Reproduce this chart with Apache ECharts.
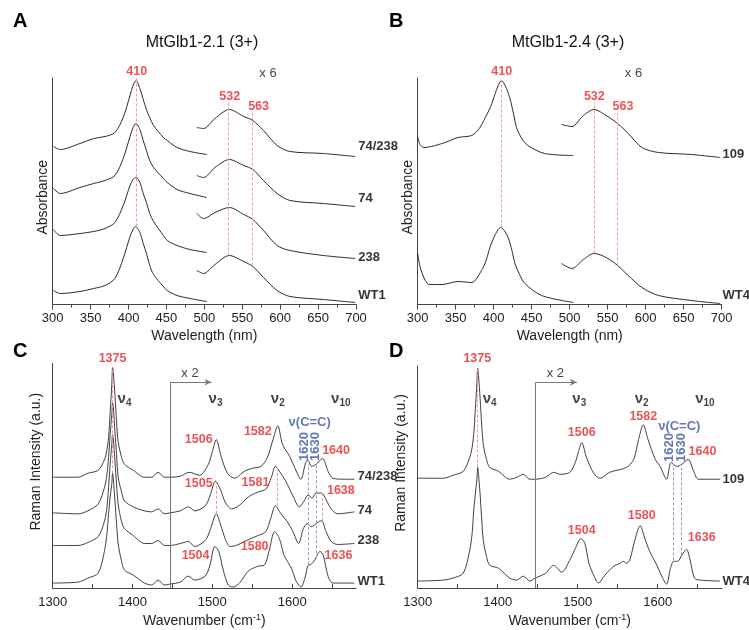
<!DOCTYPE html>
<html><head><meta charset="utf-8">
<script src="https://cdn.jsdelivr.net/npm/echarts@6/dist/echarts.min.js"></script>
<style>html,body{margin:0;padding:0;background:#fff}#c{width:749px;height:630px}</style>
</head><body><div id="c"></div><script>
// ---------------- DATA (arbitrary units) ----------------
// Panel A  MtGlb1-2.1 (3+): Soret region and Q-band region (x6)
const A_soret_74_238 = [[301,158],[310,155],[336,161],[354,166],[369,168],[382,172],[393,187],[402,209],[406,219],[410,224],[415,216],[419,206],[424,194],[428,187],[433,179],[446,167],[451,164],[464,157],[481,153],[503,150]];
const A_soret_74 = [[301,116],[310,111],[336,117],[354,121],[369,124],[382,129],[393,146],[402,168],[406,177],[410,181],[415,175],[419,165],[424,153],[428,144],[433,137],[446,126],[451,122],[464,115],[481,111],[503,107]];
const A_soret_238 = [[301,75],[310,69],[336,71],[354,73],[369,76],[382,82],[393,99],[402,119],[406,125],[410,127],[415,122],[419,112],[424,101],[428,91],[433,83],[446,69],[451,64],[464,59],[481,55],[503,52]];
const A_soret_WT1 = [[301,14],[310,11],[336,13],[354,16],[369,19],[382,26],[393,46],[402,68],[406,75],[409,78],[415,72],[419,62],[424,50],[428,39],[433,30],[446,18],[451,14],[464,9],[481,6],[503,3]];
const A_q_74_238 = [[490,177],[499,176],[514,186],[533,195],[552,188],[564,184],[578,174],[596,159],[613,153],[657,151],[699,148]];
const A_q_74 = [[490,129],[499,127],[514,137],[533,145],[552,139],[564,135],[578,124],[596,111],[613,104],[657,101],[699,98]];
const A_q_238 = [[490,91],[499,86],[514,92],[533,97],[552,90],[564,85],[578,74],[596,59],[613,54],[657,49],[699,46]];
const A_q_WT1 = [[490,34],[499,31],[514,40],[533,49],[552,43],[564,38],[578,27],[596,14],[613,8],[657,5],[699,2]];
// Panel B  MtGlb1-2.4 (3+)
const B_soret_109 = [[300,168],[303,160],[308,157],[318,158],[336,162],[353,167],[371,169],[381,176],[389,187],[396,198],[402,211],[406,219],[410,224],[415,219],[421,207],[426,191],[430,177],[437,166],[445,159],[467,151],[505,149]];
const B_soret_WT4 = [[300,51],[303,38],[306,31],[310,24],[315,20],[332,20],[353,23],[371,22],[384,34],[390,44],[395,57],[402,70],[406,75],[409,77],[414,74],[419,67],[424,54],[428,41],[434,30],[441,21],[463,9],[505,2]];
const B_q_109 = [[489,180],[503,178],[518,189],[532,195],[548,189],[563,181],[577,171],[595,157],[617,152],[660,150],[698,147]];
const B_q_WT4 = [[489,41],[503,36],[518,45],[532,51],[548,47],[563,39],[577,29],[595,17],[617,9],[660,4],[698,1]];
// Panel C  Raman, MtGlb1-2.1
const C_74_238 = [[1300,112],[1332,112],[1344,116],[1357,119],[1365,130],[1368,140],[1370,152],[1372,178],[1374,205],[1375,223],[1376,217],[1378,195],[1380,168],[1382,148],[1386,133],[1390,125],[1401,119],[1415,112],[1424,112],[1432,117],[1440,112],[1447,112],[1460,113],[1471,117],[1484,114],[1495,125],[1500,138],[1505,150],[1511,133],[1519,116],[1528,111],[1540,118],[1550,121],[1561,123],[1569,132],[1576,150],[1582,164],[1588,145],[1597,133],[1603,122],[1611,110],[1617,127],[1620,129],[1624,123],[1630,125],[1638,131],[1645,118],[1651,111],[1665,110],[1678,110]];
const C_74 = [[1300,76],[1332,75],[1344,78],[1357,85],[1365,102],[1368,115],[1370,132],[1372,155],[1374,175],[1375,187],[1376,182],[1378,158],[1380,135],[1382,112],[1386,98],[1390,88],[1401,82],[1415,78],[1424,77],[1432,80],[1440,75],[1447,76],[1460,78],[1470,82],[1478,78],[1491,83],[1497,93],[1504,108],[1510,100],[1516,87],[1524,80],[1533,83],[1545,92],[1557,97],[1567,100],[1574,112],[1579,123],[1584,118],[1592,108],[1601,93],[1609,82],[1615,88],[1620,94],[1625,91],[1630,96],[1637,96],[1642,90],[1649,80],[1657,75],[1678,77]];
const C_238 = [[1300,43],[1332,43],[1344,46],[1357,52],[1365,68],[1368,82],[1370,102],[1372,125],[1374,145],[1375,155],[1376,150],[1378,128],[1380,105],[1382,85],[1386,68],[1390,60],[1401,53],[1415,45],[1424,45],[1432,48],[1440,43],[1447,43],[1460,45],[1470,47],[1478,42],[1491,48],[1497,58],[1505,75],[1510,65],[1516,50],[1522,42],[1530,43],[1540,47],[1557,53],[1567,57],[1573,70],[1579,83],[1586,75],[1594,67],[1601,57],[1608,45],[1614,60],[1619,65],[1624,62],[1633,67],[1637,68],[1642,58],[1649,47],[1657,44],[1678,45]];
const C_WT1 = [[1300,5],[1332,6],[1344,10],[1357,15],[1365,38],[1368,55],[1370,75],[1372,92],[1374,105],[1375,116],[1376,110],[1378,88],[1380,65],[1382,45],[1386,28],[1390,18],[1401,13],[1415,5],[1424,3],[1432,8],[1440,3],[1447,4],[1460,6],[1470,12],[1478,8],[1491,12],[1497,23],[1503,42],[1508,37],[1514,17],[1520,3],[1526,1],[1534,5],[1545,17],[1557,22],[1565,23],[1571,37],[1578,57],[1584,50],[1590,33],[1599,20],[1605,7],[1611,1],[1616,10],[1620,23],[1624,24],[1628,28],[1635,37],[1639,33],[1645,12],[1651,5],[1678,5]];
// Panel D  Raman, MtGlb1-2.4
const D_109 = [[1300,111],[1332,111],[1344,114],[1357,118],[1365,132],[1368,142],[1370,155],[1372,180],[1374,208],[1375,222],[1376,215],[1378,192],[1380,165],[1382,145],[1386,130],[1390,122],[1401,118],[1415,110],[1424,112],[1432,115],[1440,110],[1447,110],[1460,112],[1470,117],[1478,115],[1490,117],[1497,127],[1501,138],[1505,147],[1511,132],[1520,116],[1528,111],[1540,117],[1561,122],[1570,130],[1576,150],[1582,165],[1588,150],[1597,130],[1603,123],[1611,110],[1617,127],[1624,123],[1630,125],[1638,130],[1645,118],[1651,110],[1678,110]];
const D_WT4 = [[1300,7],[1332,8],[1344,10],[1357,15],[1365,38],[1368,55],[1370,78],[1372,95],[1374,110],[1375,122],[1376,115],[1378,95],[1380,70],[1382,48],[1386,32],[1390,23],[1401,20],[1415,10],[1424,8],[1432,12],[1440,7],[1447,10],[1460,15],[1470,23],[1480,16],[1490,28],[1497,40],[1504,50],[1509,45],[1514,25],[1520,13],[1526,5],[1534,13],[1545,22],[1553,25],[1557,27],[1561,25],[1565,28],[1571,47],[1578,63],[1584,50],[1590,37],[1599,23],[1605,12],[1611,4],[1616,20],[1620,27],[1625,27],[1630,33],[1636,39],[1640,30],[1646,10],[1653,8],[1678,7]];

// Tick values
const wlMin = 300, wlMax = 700, wlStep = 50;
const wnTicks = [1300,1350,1400,1450,1500,1550,1600,1650];
const wnLabels = [1300,1400,1500,1600];

// Annotations: [x, yFrom, yTo] for guide lines, [x, y, text] for labels
const A_redLines = [[410,78,226],[532,49,204],[563,39,194]];
const B_redLines = [[410,77,226],[532,51,202],[563,39,191]];
const C_redLines = [[1375,116,223],[1505,75,108],[1581,83,123],[1638,68,96]];
const C_blueLines = [[1620,23,125],[1630,30,125]];
const D_redLines = [[1375,122,222]];
const D_blueLines = [[1620,28,122],[1630,33,122]];
const x2Splice = [1447, 208, 1499];

const A_red = [[410.9,233,'410'],[533.5,208,'532'],[571.5,198,'563']];
const B_red = [[410.5,233,'410'],[532.4,208,'532'],[570,198,'563']];
const AB_plain = [[584,231,'x 6']];
const A_names = [[703,158,'74/238'],[703,106,'74'],[703,47,'238'],[703,9,'WT1']];
const B_names = [[701,150,'109'],[701,9,'WT4']];
const C_red = [[1375,232,'1375'],[1483,150,'1506'],[1557,158,'1582'],[1655,139,'1640'],[1483,106,'1505'],[1554,107,'1581'],[1661,99,'1638'],[1479,33,'1504'],[1553,42,'1580'],[1658,33,'1636']];
const D_red = [[1374.5,232,'1375'],[1505,157,'1506'],[1582,173,'1582'],[1656,138,'1640'],[1505,58,'1504'],[1580,73,'1580'],[1655,51,'1636']];
const C_blue = [[1622,167,'ν(C=C)']];
const D_blue = [[1627,163,'ν(C=C)']];
const C_blueRot = [[1615,143,'1620'],[1629,143,'1630']];
const D_blueRot = [[1615,142,'1620'],[1630,142,'1630']];
const C_nu = [[1390,191,'4'],[1504,191,'3'],[1582,191,'2'],[1661,191,'10']];
const D_nu = [[1390,191,'4'],[1502,191,'3'],[1580,191,'2'],[1659,191,'10']];
const CD_plain = [[1472,217,'x 2']];
const C_names = [[1682,113,'74/238'],[1682,78,'74'],[1682,48,'238'],[1682,7,'WT1']];
const D_names = [[1681,110,'109'],[1681,7,'WT4']];

// ---------------- CHART ----------------
const FONT = '"Liberation Sans", Arial, sans-serif';
const RED = '#e8262b', BLUE = '#3b55a8', INK = '#111', AX = '#444';
const chart = echarts.init(document.getElementById('c'));

const grids = [
  {left:52.7, top:78, width:303.3, height:226.5},
  {left:417.7, top:78, width:304, height:226.5},
  {left:52.7, top:363.5, width:303.3, height:227},
  {left:417.7, top:366, width:304, height:224.5}
];
const plainNum = v => String(v);
function wlAxis(g){
  return {type:'value', gridIndex:g, min:wlMin, max:wlMax, interval:wlStep,
    axisLine:{onZero:false, lineStyle:{color:AX, width:1}},
    axisTick:{show:true, inside:false, length:5, lineStyle:{color:AX}},
    minorTick:{show:true, splitNumber:2, length:3, lineStyle:{color:AX}},
    splitLine:{show:false}, minorSplitLine:{show:false},
    axisLabel:{fontSize:13, color:'#222', margin:7, fontFamily:FONT, formatter:plainNum},
    name:'Wavelength (nm)', nameLocation:'middle', nameGap:25,
    nameTextStyle:{fontSize:14, color:'#222', fontFamily:FONT}};
}
function wnAxis(g){
  return {type:'value', gridIndex:g, min:1300, max:1680,
    axisLine:{onZero:false, lineStyle:{color:AX, width:1}},
    axisTick:{show:true, inside:true, length:4, customValues:wnTicks, lineStyle:{color:AX}},
    splitLine:{show:false},
    axisLabel:{fontSize:13, color:'#222', margin:8, fontFamily:FONT, customValues:wnLabels, formatter:plainNum},
    name:'Wavenumber (cm{sup|-1})', nameLocation:'middle', nameGap:25,
    nameTextStyle:{fontSize:14, color:'#222', fontFamily:FONT, lineHeight:16,
      rich:{sup:{fontSize:9, lineHeight:9, verticalAlign:'top', color:'#222', fontFamily:FONT}}}};
}
function yAx(g, max, name, gap, pad){
  return {type:'value', gridIndex:g, min:0, max:max,
    axisLine:{show:true, onZero:false, lineStyle:{color:AX, width:1}},
    axisTick:{show:false}, axisLabel:{show:false}, splitLine:{show:false},
    name:name, nameLocation:'middle', nameGap:gap,
    nameTextStyle:{fontSize:14, color:'#222', fontFamily:FONT, padding:pad}};
}

const series = [];
function spec(g, data, name, width){
  series.push({type:'line', name:name, xAxisIndex:g, yAxisIndex:g, data:data,
    showSymbol:false, symbol:'none', smooth:0.3, silent:true, z:3,
    lineStyle:{width:width||1, color:'#2b2b2b'}});
}
function guides(g, lines, color){
  series.push({type:'line', xAxisIndex:g, yAxisIndex:g, data:[], silent:true, z:2,
    markLine:{silent:true, symbol:['none','none'], animation:false, label:{show:false},
      lineStyle:{type:[3,2], color:color, width:1},
      data: lines.map(l => [{coord:[l[0], l[1]]}, {coord:[l[0], l[2]]}])}});
}
function spliceArrow(g, s){
  series.push({type:'line', xAxisIndex:g, yAxisIndex:g, data:[], silent:true, z:2,
    markLine:{silent:true, animation:false, label:{show:false},
      lineStyle:{type:'solid', color:'#777', width:1},
      data:[
        [{coord:[s[0],0], symbol:'none'}, {coord:[s[0],s[1]], symbol:'none'}],
        [{coord:[s[0],s[1]], symbol:'none'}, {coord:[s[2],s[1]], symbol:'arrow', symbolSize:[5,7]}]
      ]}});
}
function texts(g, items, style, fmt){
  series.push({type:'scatter', xAxisIndex:g, yAxisIndex:g, symbolSize:0, clip:false, silent:true, z:5,
    data: items.map(it => ({value:[it[0], it[1]], label:{formatter: fmt ? fmt(it[2]) : it[2]}})),
    label:Object.assign({show:true, position:[0,0], align:'center', verticalAlign:'middle', fontFamily:FONT}, style)});
}
const redStyle = {color:RED, fontSize:12.5, fontWeight:'bold'};
const blueStyle = {color:BLUE, fontSize:13, fontWeight:'bold'};
const blueRot = {color:BLUE, fontSize:13, fontWeight:'bold', rotate:90};
const plainStyle = {color:INK, fontSize:13};
const nameStyle = {color:'#000', fontSize:13, fontWeight:'bold', align:'left'};
const nuStyle = {rich:{
  n:{fontSize:15, lineHeight:18, fontWeight:'bold', color:INK, fontFamily:FONT},
  s:{fontSize:10, lineHeight:10, verticalAlign:'bottom', fontWeight:'bold', color:INK, fontFamily:FONT}}};
const nuFmt = t => '{n|ν}{s|' + t + '}';

// Panel A
[A_soret_74_238, A_soret_74, A_soret_238, A_soret_WT1, A_q_74_238, A_q_74, A_q_238, A_q_WT1].forEach(d => spec(0, d));
guides(0, A_redLines, '#f29a9a');
texts(0, A_red, redStyle); texts(0, AB_plain, plainStyle); texts(0, A_names, nameStyle);
// Panel B
[B_soret_109, B_soret_WT4, B_q_109, B_q_WT4].forEach(d => spec(1, d));
guides(1, B_redLines, '#f29a9a');
texts(1, B_red, redStyle); texts(1, AB_plain, plainStyle); texts(1, B_names, nameStyle);
// Panel C
[C_74_238, C_74, C_238, C_WT1].forEach(d => spec(2, d, null, 0.9));
guides(2, C_redLines, '#f29a9a'); guides(2, C_blueLines, '#8b9bd6'); spliceArrow(2, x2Splice);
texts(2, C_red, redStyle); texts(2, C_blue, blueStyle); texts(2, C_blueRot, blueRot);
texts(2, C_nu, nuStyle, nuFmt); texts(2, CD_plain, plainStyle); texts(2, C_names, nameStyle);
// Panel D
[D_109, D_WT4].forEach(d => spec(3, d, null, 0.9));
guides(3, D_redLines, '#f29a9a'); guides(3, D_blueLines, '#8b9bd6'); spliceArrow(3, x2Splice);
texts(3, D_red, redStyle); texts(3, D_blue, blueStyle); texts(3, D_blueRot, blueRot);
texts(3, D_nu, nuStyle, nuFmt); texts(3, CD_plain, plainStyle); texts(3, D_names, nameStyle);

const letter = {fontSize:20, fontWeight:'bold', color:'#000', fontFamily:FONT};
const sub = {fontSize:16, fontWeight:'normal', color:'#111', fontFamily:FONT};
chart.setOption({
  animation:false,
  backgroundColor:'#fff',
  textStyle:{fontFamily:FONT},
  title:[
    {text:'A', left:13, top:11, padding:0, textStyle:letter},
    {text:'B', left:389, top:11, padding:0, textStyle:letter},
    {text:'C', left:13, top:341, padding:0, textStyle:letter},
    {text:'D', left:389, top:341, padding:0, textStyle:letter},
    {text:'MtGlb1-2.1 (3+)', left:202, top:35, textAlign:'center', padding:0, textStyle:sub},
    {text:'MtGlb1-2.4 (3+)', left:568, top:35, textAlign:'center', padding:0, textStyle:sub}
  ],
  grid:grids,
  xAxis:[wlAxis(0), wlAxis(1), wnAxis(2), wnAxis(3)],
  yAxis:[yAx(0,226.5,'Absorbance',3,[0,12,0,0]), yAx(1,226.5,'Absorbance',3,[0,12,0,0]),
         yAx(2,227,'Raman Intensity (a.u.)',10,[0,0,0,28]), yAx(3,224.5,'Raman Intensity (a.u.)',10,[0,0,0,28])],
  series:series
});
</script></body></html>
